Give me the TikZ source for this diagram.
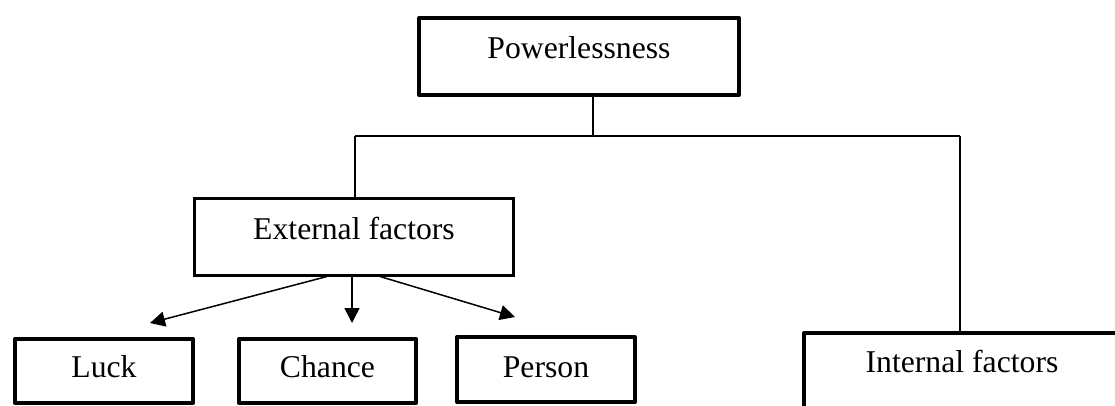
\documentclass[tikz,border=0pt]{standalone}
\usepackage{fontspec}
\setmainfont{Liberation Serif}
\usetikzlibrary{arrows.meta}
\tikzset{
  txtfont/.style={font=\fontsize{31.7}{38}\selectfont},
  thickbox/.style={draw, line width=4pt, line join=round, rectangle, inner sep=0pt, txtfont},
  midbox/.style={draw, line width=3pt, rectangle, inner sep=0pt, txtfont},
  conn/.style={line width=1.5pt},
  arr/.style={line width=1.5pt, -{Triangle[length=15pt,width=15pt]}}
}
\begin{document}
\begin{tikzpicture}[x=1pt,y=-1pt]
\useasboundingbox (0,0) rectangle (1115,406);
\clip (0,0) rectangle (1115,406);
% boxes (center x, top of box; text baseline set by text height/depth)
\node[thickbox, minimum width=320pt, text height=41pt, text depth=36pt, anchor=north] (p) at (579,16) {Powerlessness};
\node[midbox, minimum width=319pt, text height=41.5pt, text depth=35.5pt, anchor=north] (e) at (354,196.5) {External factors};
\node[thickbox, minimum width=178pt, text height=38pt, text depth=26pt, anchor=north] (l) at (104,337) {Luck};
\node[thickbox, minimum width=177pt, text height=38pt, text depth=26pt, anchor=north] (c) at (327.5,337) {Chance};
\node[thickbox, minimum width=178pt, text height=40pt, text depth=25pt, anchor=north] (ps) at (546,335) {Person};
\node[thickbox, minimum width=316pt, text height=39pt, text depth=45pt, anchor=north] (i) at (962,331) {Internal factors};
% tree connectors
\coordinate (j) at (593,136);
\coordinate (jl) at (355,136);
\coordinate (jr) at (960,136);
\draw[conn] (p.south -| j) -- (j);
\draw[conn] (jl) -- (jr);
\draw[conn] (jl) -- (e.north -| jl);
\draw[conn] (jr) -- (i.north -| jr);
% arrows
\coordinate (la) at (150,323);
\coordinate (ca) at (352,323);
\coordinate (pa) at (515,317);
\draw[arr] (e.south -| 327,0) -- (la);
\draw[arr] (e.south -| ca) -- (ca);
\draw[arr] (e.south -| 380,0) -- (pa);
\end{tikzpicture}
\end{document}
